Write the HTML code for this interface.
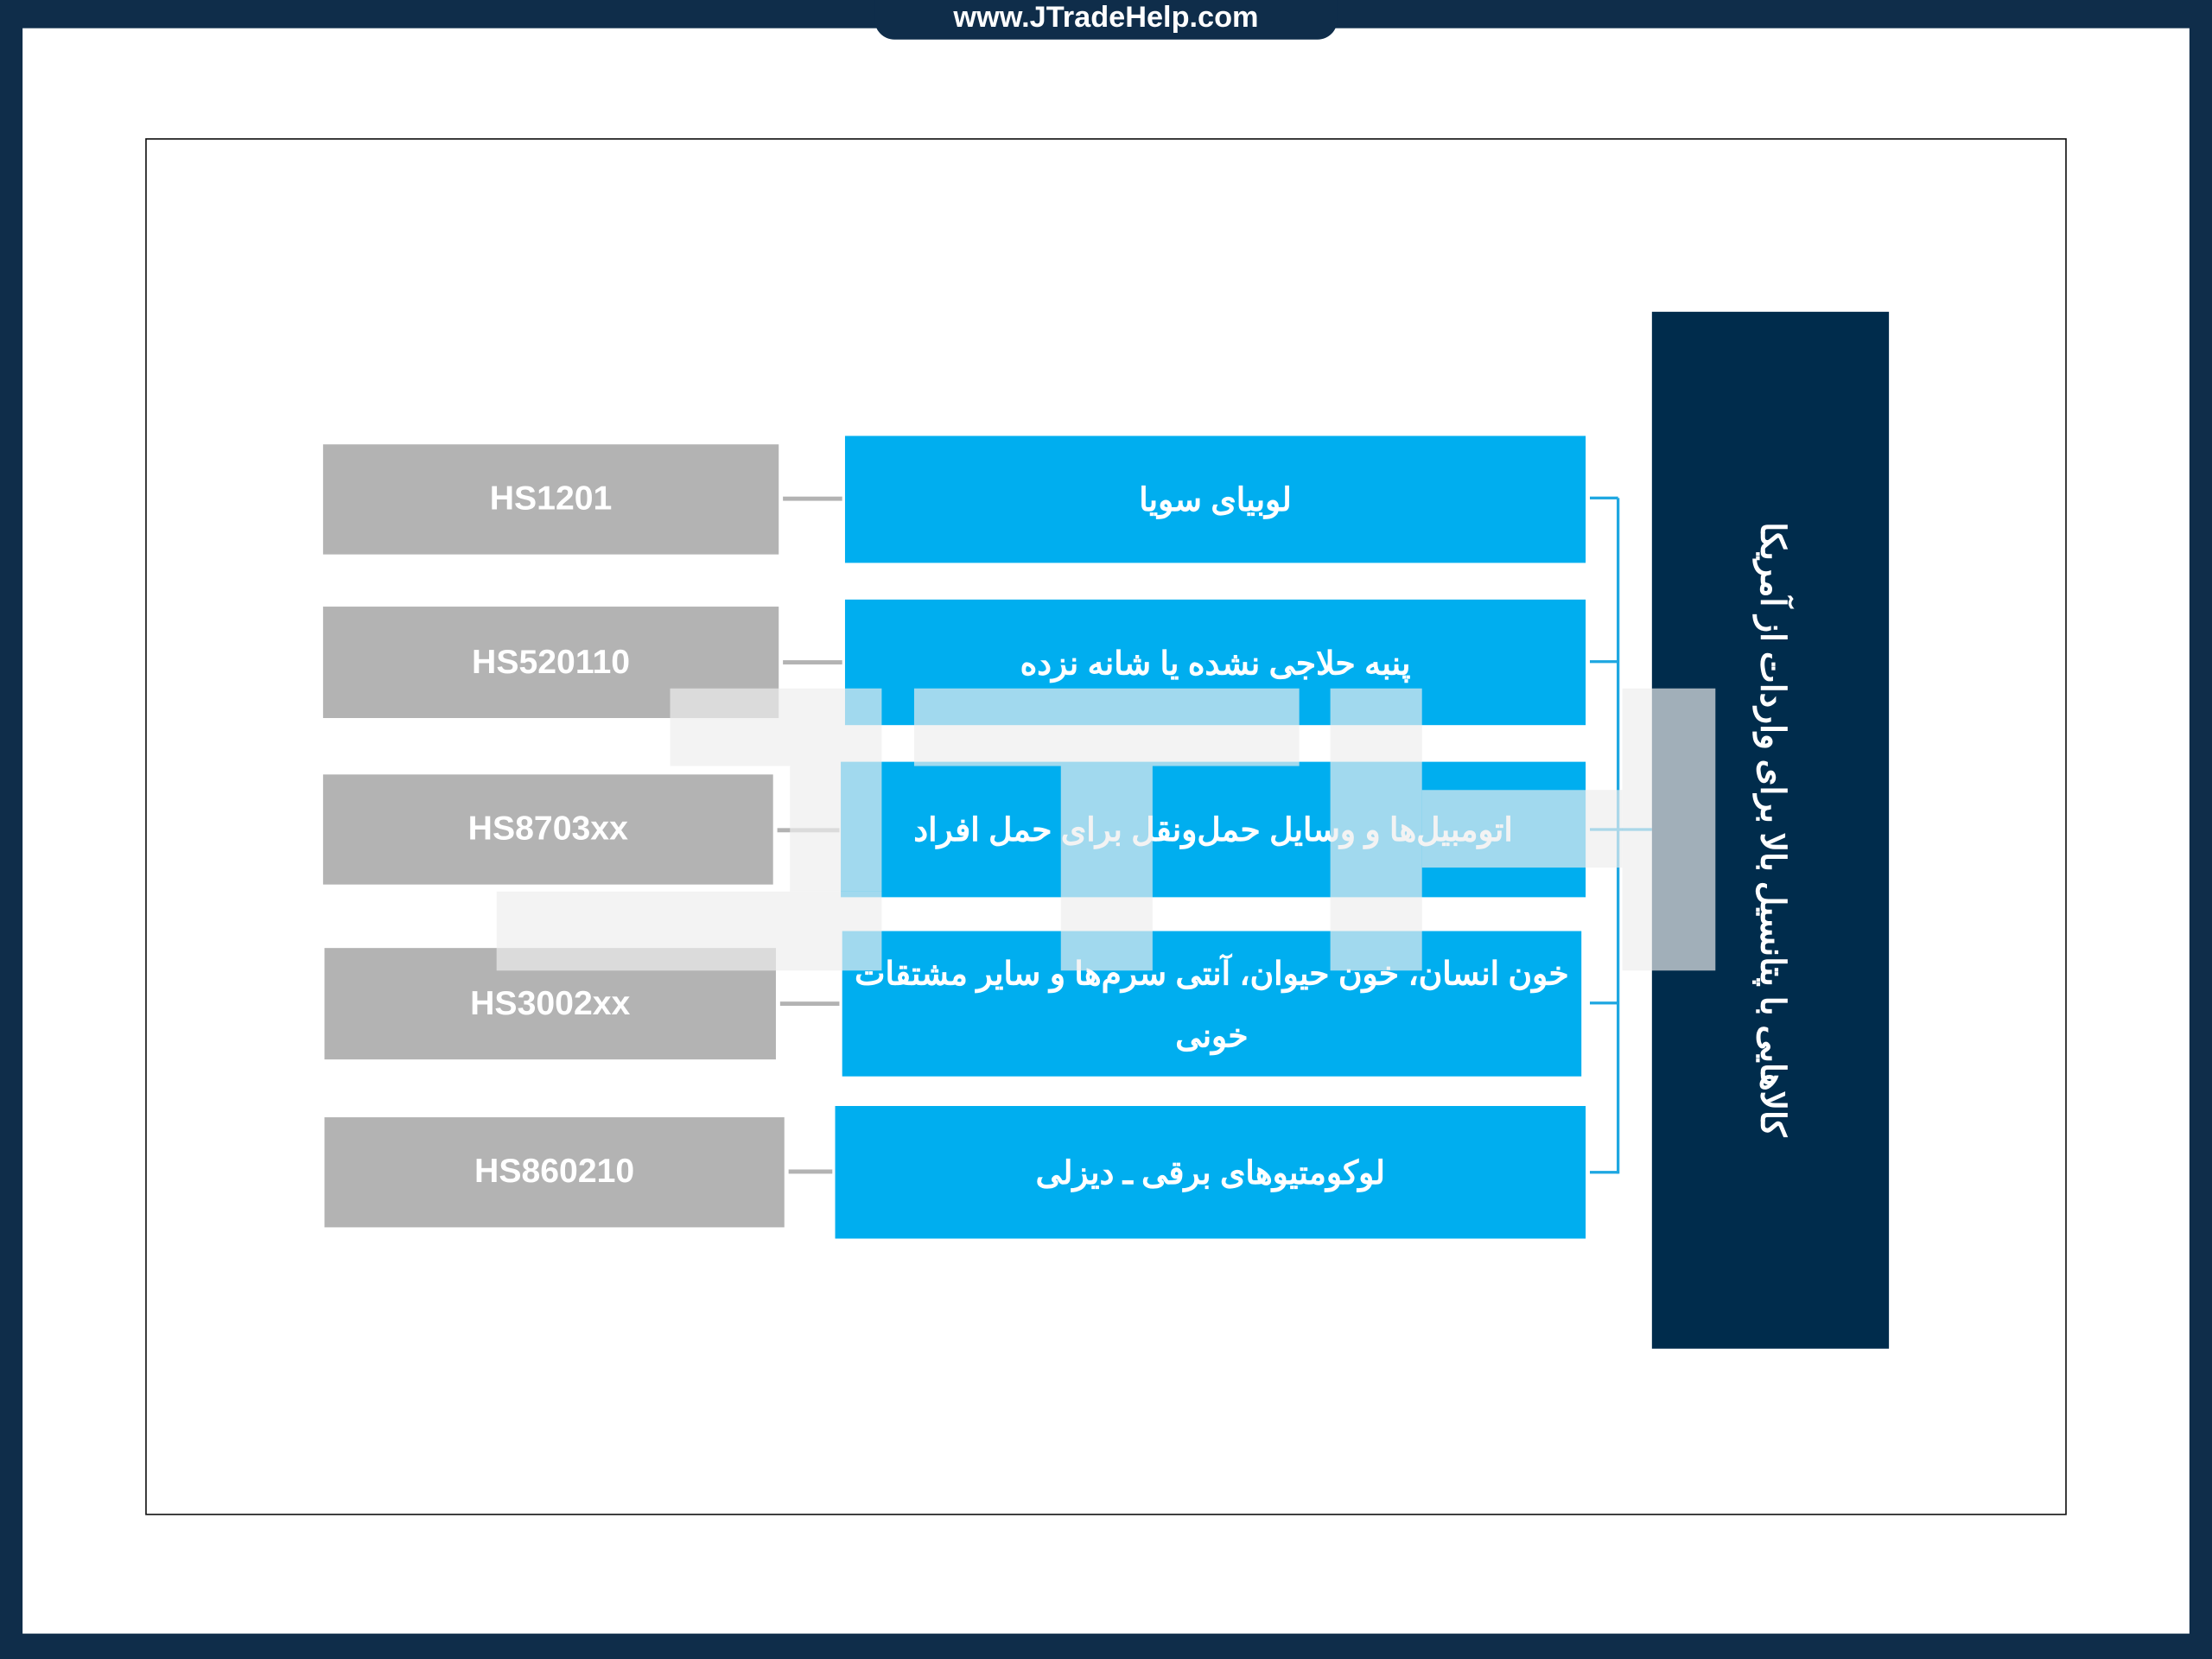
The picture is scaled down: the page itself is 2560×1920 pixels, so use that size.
<!DOCTYPE html>
<html><head><meta charset="utf-8"><style>
html,body{margin:0;padding:0;background:#0f2d4a;}
body{width:2560px;height:1920px;overflow:hidden;position:relative;}
#s{position:absolute;left:0;top:0;width:1568px;height:1176px;transform:scale(1.63265);transform-origin:0 0;}
.a{position:absolute;}
.g{position:absolute;background:#b3b3b3;color:#fff;font:bold 24px "Liberation Sans",sans-serif;display:flex;align-items:center;justify-content:center;}
.b{position:absolute;background:#00aeef;color:#fff;font:bold 23px "Liberation Sans","Noto Sans CJK SC",sans-serif;display:flex;flex-direction:column;align-items:center;justify-content:center;text-align:center;direction:rtl;line-height:44px;white-space:nowrap;}
.l{position:absolute;background:#b3b3b3;height:3px;}
.c{position:absolute;background:#1ea7e1;}
.w{position:absolute;background:rgba(238,238,238,0.68);}
</style></head><body><div id="s">
<div class="a" style="left:16px;top:20px;width:1536px;height:1138px;background:#fff"></div>
<div class="a" style="left:620px;top:0;width:328px;height:28px;background:#0f2d4a;border-radius:0 0 14px 14px;color:#fff;font:bold 21px 'Liberation Sans',sans-serif;text-align:center;line-height:26px">www.JTradeHelp.com</div>
<div class="a" style="left:103px;top:98px;width:1360px;height:974px;border:1.5px solid #111"></div>

<div class="g" style="left:229px;top:315px;width:323px;height:78px">HS1201</div>
<div class="g" style="left:229px;top:430px;width:323px;height:79px">HS520110</div>
<div class="g" style="left:229px;top:549px;width:319px;height:78px">HS8703xx</div>
<div class="g" style="left:230px;top:672px;width:320px;height:79px">HS3002xx</div>
<div class="g" style="left:230px;top:792px;width:326px;height:78px">HS860210</div>

<div class="l" style="left:555px;top:352px;width:42px"></div>
<div class="l" style="left:555px;top:468px;width:42px"></div>
<div class="l" style="left:551px;top:587px;width:44px"></div>
<div class="l" style="left:553px;top:710px;width:42px"></div>
<div class="l" style="left:559px;top:829px;width:31px"></div>

<div class="b" style="left:599px;top:309px;width:525px;height:90px">لوبیای سویا</div>
<div class="b" style="left:599px;top:425px;width:525px;height:89px">پنبه حلاجی نشده یا شانه نزده</div>
<div class="b" style="left:596px;top:540px;width:528px;height:96px">اتومبیل‌ها و وسایل حمل‌ونقل برای حمل افراد</div>
<div class="b" style="left:597px;top:660px;width:524px;height:103px"><div>خون انسان، خون حیوان، آنتی سرم‌ها و سایر مشتقات</div><div>خونی</div></div>
<div class="b" style="left:592px;top:784px;width:532px;height:94px">لوکومتیوهای برقی ـ دیزلی</div>

<div class="c" style="left:1146px;top:353px;width:2px;height:479px"></div>
<div class="c" style="left:1127px;top:352px;width:20px;height:2px"></div>
<div class="c" style="left:1127px;top:468px;width:20px;height:2px"></div>
<div class="c" style="left:1127px;top:587px;width:44px;height:2px"></div>
<div class="c" style="left:1127px;top:710px;width:20px;height:2px"></div>
<div class="c" style="left:1127px;top:830px;width:20px;height:2px"></div>

<div class="a" style="left:1171px;top:221px;width:168px;height:735px;background:#002c4c"></div>
<div class="a" style="left:888px;top:568px;width:735px;height:40px;transform:rotate(90deg);color:#fff;font:bold 24px 'Liberation Sans','Noto Sans CJK SC',sans-serif;text-align:center;line-height:40px;direction:rtl;white-space:nowrap">کالاهایی با پتانسیل بالا برای واردات از آمریکا</div>

<div class="w" style="left:475px;top:488px;width:150px;height:55px"></div>
<div class="w" style="left:560px;top:543px;width:65px;height:89px"></div>
<div class="w" style="left:352px;top:632px;width:273px;height:56px"></div>
<div class="w" style="left:648px;top:488px;width:273px;height:55px"></div>
<div class="w" style="left:752px;top:543px;width:65px;height:145px"></div>
<div class="w" style="left:943px;top:488px;width:65px;height:200px"></div>
<div class="w" style="left:1008px;top:560px;width:142px;height:55px"></div>
<div class="w" style="left:1150px;top:488px;width:66px;height:200px"></div>
</div></body></html>
